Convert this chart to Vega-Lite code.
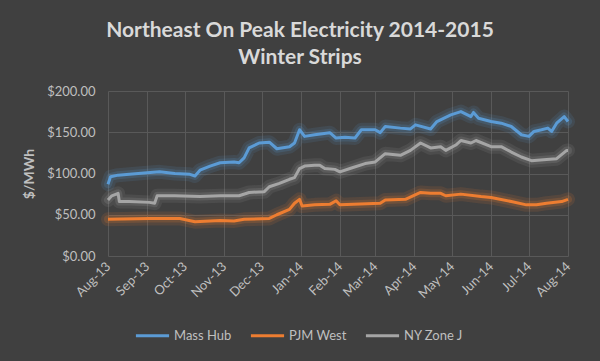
{
  "$schema": "https://vega.github.io/schema/vega-lite/v6.json",
  "width": 460,
  "height": 165,
  "autosize": {"type": "none"},
  "padding": {"left": 108, "top": 91, "right": 32, "bottom": 105},
  "background": "#404040",
  "title": {
    "text": ["Northeast On Peak Electricity 2014-2015", "Winter Strips"],
    "font": "Lato",
    "fontSize": 21,
    "fontWeight": "bold",
    "color": "#d9d9d9",
    "lineHeight": 27,
    "anchor": "middle",
    "dx": -38,
    "offset": 17
  },
  "config": {
    "view": {"stroke": null},
    "font": "Lato",
    "axis": {
      "gridColor": "#595959",
      "gridWidth": 1,
      "domain": false,
      "ticks": false,
      "labelColor": "#bfbfbf",
      "labelFont": "Lato",
      "labelFontSize": 13,
      "titleFont": "Lato"
    }
  },
  "data": {
    "values": [
      {"date": "2013-08-01T00:00", "series": "Mass Hub", "value": 87},
      {"date": "2013-08-03T00:00", "series": "Mass Hub", "value": 96},
      {"date": "2013-08-09T00:00", "series": "Mass Hub", "value": 98},
      {"date": "2013-08-18T00:00", "series": "Mass Hub", "value": 99},
      {"date": "2013-09-01T00:00", "series": "Mass Hub", "value": 101},
      {"date": "2013-09-11T00:00", "series": "Mass Hub", "value": 102},
      {"date": "2013-09-23T00:00", "series": "Mass Hub", "value": 100},
      {"date": "2013-10-05T00:00", "series": "Mass Hub", "value": 99},
      {"date": "2013-10-09T00:00", "series": "Mass Hub", "value": 97},
      {"date": "2013-10-13T00:00", "series": "Mass Hub", "value": 104},
      {"date": "2013-10-21T00:00", "series": "Mass Hub", "value": 109},
      {"date": "2013-10-29T00:00", "series": "Mass Hub", "value": 113},
      {"date": "2013-11-09T00:00", "series": "Mass Hub", "value": 114},
      {"date": "2013-11-13T00:00", "series": "Mass Hub", "value": 113},
      {"date": "2013-11-17T00:00", "series": "Mass Hub", "value": 119},
      {"date": "2013-11-21T00:00", "series": "Mass Hub", "value": 131},
      {"date": "2013-11-29T00:00", "series": "Mass Hub", "value": 137},
      {"date": "2013-12-07T00:00", "series": "Mass Hub", "value": 138},
      {"date": "2013-12-13T00:00", "series": "Mass Hub", "value": 130},
      {"date": "2013-12-23T00:00", "series": "Mass Hub", "value": 132.5},
      {"date": "2013-12-27T00:00", "series": "Mass Hub", "value": 137},
      {"date": "2013-12-31T00:00", "series": "Mass Hub", "value": 153},
      {"date": "2014-01-04T00:00", "series": "Mass Hub", "value": 145},
      {"date": "2014-01-12T00:00", "series": "Mass Hub", "value": 147},
      {"date": "2014-01-24T00:00", "series": "Mass Hub", "value": 149.5},
      {"date": "2014-01-29T00:00", "series": "Mass Hub", "value": 143},
      {"date": "2014-02-05T00:00", "series": "Mass Hub", "value": 144},
      {"date": "2014-02-13T00:00", "series": "Mass Hub", "value": 143},
      {"date": "2014-02-18T00:00", "series": "Mass Hub", "value": 153},
      {"date": "2014-03-01T00:00", "series": "Mass Hub", "value": 153},
      {"date": "2014-03-05T00:00", "series": "Mass Hub", "value": 149.5},
      {"date": "2014-03-09T00:00", "series": "Mass Hub", "value": 157},
      {"date": "2014-03-21T00:00", "series": "Mass Hub", "value": 155},
      {"date": "2014-03-29T00:00", "series": "Mass Hub", "value": 154},
      {"date": "2014-04-02T00:00", "series": "Mass Hub", "value": 159},
      {"date": "2014-04-14T00:00", "series": "Mass Hub", "value": 154},
      {"date": "2014-04-19T00:00", "series": "Mass Hub", "value": 163},
      {"date": "2014-04-30T00:00", "series": "Mass Hub", "value": 171},
      {"date": "2014-05-08T00:00", "series": "Mass Hub", "value": 175},
      {"date": "2014-05-16T00:00", "series": "Mass Hub", "value": 169},
      {"date": "2014-05-18T00:00", "series": "Mass Hub", "value": 174},
      {"date": "2014-05-22T00:00", "series": "Mass Hub", "value": 167},
      {"date": "2014-06-01T00:00", "series": "Mass Hub", "value": 163},
      {"date": "2014-06-09T00:00", "series": "Mass Hub", "value": 161},
      {"date": "2014-06-17T00:00", "series": "Mass Hub", "value": 157},
      {"date": "2014-06-25T00:00", "series": "Mass Hub", "value": 147},
      {"date": "2014-07-01T00:00", "series": "Mass Hub", "value": 145},
      {"date": "2014-07-05T00:00", "series": "Mass Hub", "value": 151},
      {"date": "2014-07-11T00:00", "series": "Mass Hub", "value": 153},
      {"date": "2014-07-16T00:00", "series": "Mass Hub", "value": 155},
      {"date": "2014-07-19T00:00", "series": "Mass Hub", "value": 151},
      {"date": "2014-07-23T00:00", "series": "Mass Hub", "value": 161},
      {"date": "2014-07-29T00:00", "series": "Mass Hub", "value": 169},
      {"date": "2014-08-01T00:00", "series": "Mass Hub", "value": 163},
      {"date": "2013-08-01T00:00", "series": "PJM West", "value": 44.5},
      {"date": "2013-09-03T00:00", "series": "PJM West", "value": 45.5},
      {"date": "2013-09-27T00:00", "series": "PJM West", "value": 45.5},
      {"date": "2013-10-09T00:00", "series": "PJM West", "value": 41.5},
      {"date": "2013-10-29T00:00", "series": "PJM West", "value": 43},
      {"date": "2013-11-09T00:00", "series": "PJM West", "value": 42.5},
      {"date": "2013-11-17T00:00", "series": "PJM West", "value": 44.5},
      {"date": "2013-12-07T00:00", "series": "PJM West", "value": 45.5},
      {"date": "2013-12-13T00:00", "series": "PJM West", "value": 50},
      {"date": "2013-12-23T00:00", "series": "PJM West", "value": 56.5},
      {"date": "2013-12-27T00:00", "series": "PJM West", "value": 64},
      {"date": "2013-12-31T00:00", "series": "PJM West", "value": 68.7},
      {"date": "2014-01-02T00:00", "series": "PJM West", "value": 60.6},
      {"date": "2014-01-12T00:00", "series": "PJM West", "value": 62},
      {"date": "2014-01-24T00:00", "series": "PJM West", "value": 62.6},
      {"date": "2014-01-29T00:00", "series": "PJM West", "value": 67},
      {"date": "2014-02-01T00:00", "series": "PJM West", "value": 62},
      {"date": "2014-02-17T00:00", "series": "PJM West", "value": 63},
      {"date": "2014-03-05T00:00", "series": "PJM West", "value": 64},
      {"date": "2014-03-09T00:00", "series": "PJM West", "value": 68},
      {"date": "2014-03-25T00:00", "series": "PJM West", "value": 68.7},
      {"date": "2014-04-06T00:00", "series": "PJM West", "value": 77},
      {"date": "2014-04-14T00:00", "series": "PJM West", "value": 76},
      {"date": "2014-04-22T00:00", "series": "PJM West", "value": 76},
      {"date": "2014-04-26T00:00", "series": "PJM West", "value": 73},
      {"date": "2014-05-08T00:00", "series": "PJM West", "value": 75},
      {"date": "2014-05-24T00:00", "series": "PJM West", "value": 72},
      {"date": "2014-06-01T00:00", "series": "PJM West", "value": 71},
      {"date": "2014-06-17T00:00", "series": "PJM West", "value": 66},
      {"date": "2014-06-29T00:00", "series": "PJM West", "value": 62},
      {"date": "2014-07-07T00:00", "series": "PJM West", "value": 62},
      {"date": "2014-07-15T00:00", "series": "PJM West", "value": 64},
      {"date": "2014-07-27T00:00", "series": "PJM West", "value": 66},
      {"date": "2014-08-01T00:00", "series": "PJM West", "value": 68.7},
      {"date": "2013-08-01T00:00", "series": "NY Zone J", "value": 68},
      {"date": "2013-08-04T00:00", "series": "NY Zone J", "value": 73},
      {"date": "2013-08-09T00:00", "series": "NY Zone J", "value": 76},
      {"date": "2013-08-10T00:00", "series": "NY Zone J", "value": 66},
      {"date": "2013-08-18T00:00", "series": "NY Zone J", "value": 66},
      {"date": "2013-09-03T00:00", "series": "NY Zone J", "value": 65},
      {"date": "2013-09-07T00:00", "series": "NY Zone J", "value": 64},
      {"date": "2013-09-09T00:00", "series": "NY Zone J", "value": 73},
      {"date": "2013-09-23T00:00", "series": "NY Zone J", "value": 73},
      {"date": "2013-10-13T00:00", "series": "NY Zone J", "value": 72},
      {"date": "2013-10-29T00:00", "series": "NY Zone J", "value": 73},
      {"date": "2013-11-13T00:00", "series": "NY Zone J", "value": 73},
      {"date": "2013-11-21T00:00", "series": "NY Zone J", "value": 77},
      {"date": "2013-12-03T00:00", "series": "NY Zone J", "value": 78},
      {"date": "2013-12-07T00:00", "series": "NY Zone J", "value": 84},
      {"date": "2013-12-15T00:00", "series": "NY Zone J", "value": 88},
      {"date": "2013-12-23T00:00", "series": "NY Zone J", "value": 93},
      {"date": "2013-12-27T00:00", "series": "NY Zone J", "value": 95},
      {"date": "2013-12-31T00:00", "series": "NY Zone J", "value": 106},
      {"date": "2014-01-04T00:00", "series": "NY Zone J", "value": 109},
      {"date": "2014-01-12T00:00", "series": "NY Zone J", "value": 110},
      {"date": "2014-01-16T00:00", "series": "NY Zone J", "value": 110},
      {"date": "2014-01-20T00:00", "series": "NY Zone J", "value": 106},
      {"date": "2014-01-28T00:00", "series": "NY Zone J", "value": 105},
      {"date": "2014-02-01T00:00", "series": "NY Zone J", "value": 102},
      {"date": "2014-02-09T00:00", "series": "NY Zone J", "value": 106},
      {"date": "2014-02-21T00:00", "series": "NY Zone J", "value": 112},
      {"date": "2014-03-01T00:00", "series": "NY Zone J", "value": 114},
      {"date": "2014-03-09T00:00", "series": "NY Zone J", "value": 124},
      {"date": "2014-03-21T00:00", "series": "NY Zone J", "value": 122},
      {"date": "2014-03-29T00:00", "series": "NY Zone J", "value": 128},
      {"date": "2014-04-06T00:00", "series": "NY Zone J", "value": 137},
      {"date": "2014-04-14T00:00", "series": "NY Zone J", "value": 131},
      {"date": "2014-04-22T00:00", "series": "NY Zone J", "value": 132.5},
      {"date": "2014-04-26T00:00", "series": "NY Zone J", "value": 128},
      {"date": "2014-05-04T00:00", "series": "NY Zone J", "value": 134.5},
      {"date": "2014-05-08T00:00", "series": "NY Zone J", "value": 140},
      {"date": "2014-05-16T00:00", "series": "NY Zone J", "value": 137},
      {"date": "2014-05-20T00:00", "series": "NY Zone J", "value": 140},
      {"date": "2014-06-01T00:00", "series": "NY Zone J", "value": 132.5},
      {"date": "2014-06-09T00:00", "series": "NY Zone J", "value": 132.5},
      {"date": "2014-06-17T00:00", "series": "NY Zone J", "value": 126},
      {"date": "2014-06-25T00:00", "series": "NY Zone J", "value": 120},
      {"date": "2014-07-03T00:00", "series": "NY Zone J", "value": 115.5},
      {"date": "2014-07-15T00:00", "series": "NY Zone J", "value": 117},
      {"date": "2014-07-23T00:00", "series": "NY Zone J", "value": 118},
      {"date": "2014-07-31T00:00", "series": "NY Zone J", "value": 128},
      {"date": "2014-08-01T00:00", "series": "NY Zone J", "value": 128}
    ]
  },
  "encoding": {
    "x": {
      "field": "date",
      "type": "temporal",
      "scale": {"domain": [{"year": 2013, "month": 8, "date": 1}, {"year": 2014, "month": 8, "date": 1}]},
      "axis": {
        "title": null,
        "format": "%b-%y",
        "tickCount": {"interval": "month", "step": 1},
        "labelAngle": -45,
        "labelAlign": "right",
        "labelBaseline": "middle",
        "labelPadding": 8,
        "labelFlush": false,
        "labelOverlap": false
      }
    },
    "y": {
      "field": "value",
      "type": "quantitative",
      "scale": {"domain": [0, 200], "nice": false},
      "axis": {
        "title": "$/MWh",
        "titleColor": "#bfbfbf",
        "titleFontSize": 14,
        "titleFontWeight": "bold",
        "titlePadding": 10,
        "values": [0, 50, 100, 150, 200],
        "format": "$.2f",
        "labelPadding": 13
      }
    },
    "color": {
      "field": "series",
      "type": "nominal",
      "scale": {"domain": ["Mass Hub", "PJM West", "NY Zone J"], "range": ["#5B9BD5", "#ED7D31", "#A5A5A5"]},
      "legend": {
        "title": null,
        "orient": "none",
        "direction": "horizontal",
        "legendX": 26,
        "legendY": 226,
        "symbolType": "stroke",
        "symbolSize": 1100,
        "symbolStrokeWidth": 3,
        "symbolOpacity": 1,
        "labelColor": "#bfbfbf",
        "labelFontSize": 13,
        "labelOffset": 3,
        "columnPadding": 12
      }
    }
  },
  "layer": [
    {"mark": {"type": "line", "strokeWidth": 14, "opacity": 0.12, "strokeCap": "round", "strokeJoin": "round"}},
    {"mark": {"type": "line", "strokeWidth": 8, "opacity": 0.18, "strokeCap": "round", "strokeJoin": "round"}},
    {"mark": {"type": "line", "strokeWidth": 3, "strokeJoin": "round"}}
  ]
}
